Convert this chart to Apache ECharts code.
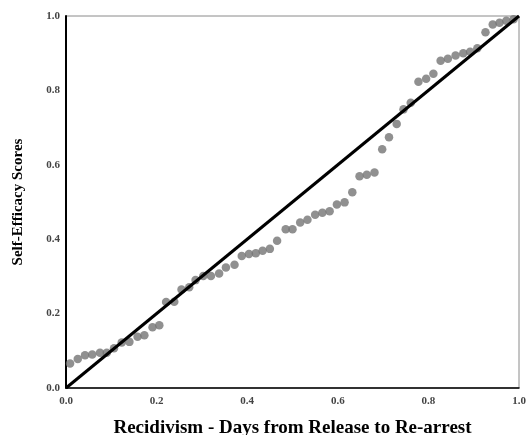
<!DOCTYPE html>
<html>
<head>
<meta charset="utf-8">
<script src="https://cdn.jsdelivr.net/npm/echarts@6/dist/echarts.min.js"></script>
<style>html,body{margin:0;padding:0;background:#fff;}#c{width:530px;height:435px;}</style>
</head>
<body>
<div id="c"></div>
<script>
var observedX = [0.009,0.026,0.042,0.058,0.075,0.090,0.106,0.123,0.140,0.158,0.173,0.191,0.206,0.221,0.239,0.255,0.272,0.286,0.303,0.320,0.338,0.353,0.372,0.388,0.404,0.419,0.434,0.450,0.466,0.485,0.500,0.517,0.533,0.550,0.566,0.582,0.598,0.615,0.632,0.648,0.664,0.681,0.698,0.713,0.730,0.745,0.761,0.778,0.795,0.811,0.827,0.843,0.860,0.877,0.892,0.908,0.926,0.942,0.957,0.972,0.988];
var expectedY = [0.066,0.078,0.088,0.090,0.095,0.095,0.107,0.122,0.124,0.138,0.142,0.163,0.169,0.231,0.232,0.265,0.271,0.290,0.301,0.301,0.308,0.324,0.331,0.355,0.360,0.362,0.369,0.374,0.396,0.427,0.427,0.445,0.452,0.466,0.471,0.475,0.493,0.499,0.526,0.569,0.573,0.579,0.642,0.674,0.710,0.749,0.767,0.823,0.831,0.845,0.880,0.885,0.894,0.900,0.904,0.913,0.956,0.977,0.982,0.987,0.991];
var refLine = [[0,0],[1,1]];
var xTitle = 'Recidivism - Days from Release to Re-arrest';
var yTitle = 'Self-Efficacy Scores';

var pts = observedX.map(function(x,i){return [x, expectedY[i]];});
var chart = echarts.init(document.getElementById('c'), null, {renderer:'canvas'});
var labelStyle = {fontFamily:'Liberation Serif', fontSize:11, color:'#444', fontWeight:'bold'};
chart.setOption({
  animation:false,
  backgroundColor:'#fff',
  grid:{left:66,right:11,top:16,bottom:47,containLabel:false,outerBoundsMode:'none',show:true,borderColor:'#8a8a8a',borderWidth:1},
  xAxis:{type:'value',min:0,max:1,interval:0.2,
    axisLine:{show:true,lineStyle:{color:'#000',width:1.5}},
    axisTick:{show:false},splitLine:{show:false},
    axisLabel:Object.assign({formatter:function(v){return v.toFixed(1);},margin:8},labelStyle),
    name:xTitle,nameLocation:'middle',nameGap:31,
    nameTextStyle:{fontFamily:'Liberation Serif',fontWeight:'bold',fontSize:19,color:'#000'}},
  yAxis:{type:'value',min:0,max:1,interval:0.2,
    axisLine:{show:true,lineStyle:{color:'#000',width:2}},
    axisTick:{show:false},splitLine:{show:false},
    axisLabel:Object.assign({formatter:function(v){return v.toFixed(1);},margin:6},labelStyle),
    name:yTitle,nameLocation:'middle',nameGap:40,
    nameTextStyle:{fontFamily:'Liberation Serif',fontWeight:'bold',fontSize:15,color:'#000'}},
  series:[
    {type:'scatter',data:pts,symbol:'circle',symbolSize:8.5,itemStyle:{color:'#747474'},z:2},
    {type:'line',data:refLine,showSymbol:false,symbol:'none',lineStyle:{color:'#000',width:3},z:3}
  ]
});
</script>
</body>
</html>
